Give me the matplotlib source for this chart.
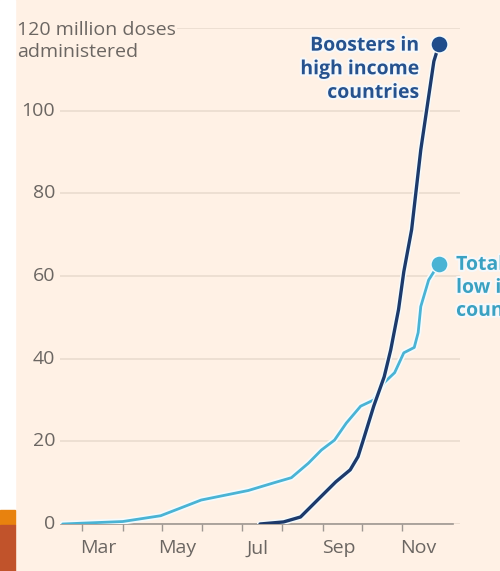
import matplotlib
matplotlib.use("Agg")
import matplotlib.pyplot as plt
import matplotlib.dates as mdates
import matplotlib.patheffects as pe
from matplotlib.patches import Rectangle
from matplotlib.transforms import blended_transform_factory
import numpy as np

# cumulative doses, millions
low_dates = ["2021-02-14", "2021-03-01", "2021-04-01", "2021-04-30", "2021-05-31",
             "2021-07-06", "2021-07-26", "2021-08-08", "2021-08-21", "2021-08-31",
             "2021-09-10", "2021-09-19", "2021-09-30", "2021-10-10", "2021-10-18",
             "2021-10-26", "2021-11-02", "2021-11-10", "2021-11-13", "2021-11-15",
             "2021-11-21", "2021-11-29"]
low_values = [0, 0.2, 0.6, 2, 5.8, 8.1, 10, 11.2, 14.7, 17.9, 20.3, 24.4, 28.5,
              30, 34.2, 36.6, 41.4, 42.7, 46.3, 52.6, 59, 63]

boost_dates = ["2021-07-15", "2021-08-02", "2021-08-15", "2021-08-28", "2021-09-11",
               "2021-09-22", "2021-09-28", "2021-10-02", "2021-10-10", "2021-10-18",
               "2021-10-23", "2021-10-29", "2021-11-02", "2021-11-08", "2021-11-15",
               "2021-11-25", "2021-11-29"]
boost_values = [0, 0.5, 1.7, 5.8, 10.2, 13.1, 16.3, 20.3, 28.5, 35.6, 42.1, 51.9,
                61, 71.2, 90.5, 111.9, 116]

y_ticks = [0, 20, 40, 60, 80, 100]
month_labels = ["Mar", "May", "Jul", "Sep", "Nov"]

BG = "#fff1e5"
GREY = "#6b6662"
DARK = "#1d3a6b"
DARK_DOT = "#1f4d8b"
DARK_TEXT = "#26528e"
LIGHT = "#4ab3d4"
LIGHT_TEXT = "#3aa1c2"
FS = 14

plt.rcParams["font.family"] = ["Open Sans", "DejaVu Sans"]

fig = plt.figure(figsize=(5, 5.71), dpi=100, facecolor=BG)
ax = fig.add_axes([0.12, 0.0823, 0.80, 0.869], facecolor=BG)

# side strip
fig.patches.append(Rectangle((0, 0.1075), 0.03, 0.8925, transform=fig.transFigure, color="white", zorder=0))
fig.patches.append(Rectangle((0, 0.0805), 0.03, 0.027, transform=fig.transFigure, color="#e8820e", zorder=0))
fig.patches.append(Rectangle((0, 0), 0.03, 0.0805, transform=fig.transFigure, color="#c1532b", zorder=0))

ld = np.array(low_dates, dtype="datetime64[D]")
bd = np.array(boost_dates, dtype="datetime64[D]")
halo = [pe.Stroke(linewidth=4.5, foreground="#f4fbfd"), pe.Normal()]
text_halo = [pe.Stroke(linewidth=3, foreground="#f6f8fa"), pe.Normal()]

ax.plot(ld, low_values, color=LIGHT, lw=2, path_effects=halo, zorder=3, solid_capstyle="round")
ax.plot(bd, boost_values, color=DARK, lw=2.4, path_effects=halo, zorder=4, solid_capstyle="round")
ax.scatter(ld[-1], low_values[-1], s=150, color=LIGHT, zorder=5, clip_on=False,
           edgecolor="#f4fbfd", linewidth=1)
ax.scatter(bd[-1], boost_values[-1], s=150, color=DARK_DOT, zorder=5, clip_on=False,
           edgecolor="#f4fbfd", linewidth=1)

ax.text(bd[-1] - np.timedelta64(15, "D"), boost_values[-1] + 2.1, "Boosters in\nhigh income\ncountries",
        ha="right", va="top", fontsize=FS, fontweight="bold", color=DARK_TEXT,
        linespacing=1.24, zorder=6, path_effects=text_halo)
ax.text(ld[-1] + np.timedelta64(13, "D"), low_values[-1] + 2.1, "Total doses in\nlow income\ncountries",
        ha="left", va="top", fontsize=FS, fontweight="bold", color=LIGHT_TEXT,
        linespacing=1.2, zorder=6, clip_on=False, path_effects=text_halo)

ax.set_xlim(np.datetime64("2021-02-12"), np.datetime64("2021-12-15"))
ax.set_ylim(0, 120)

ax.set_yticks(y_ticks + [120])
ax.tick_params(axis="y", length=0, labelleft=False)
ax.yaxis.grid(True, color="#eadccf", lw=1.2)
ax.set_axisbelow(True)

trans = blended_transform_factory(fig.transFigure, ax.transData)
for v in y_ticks:
    ax.text(0.11, v, str(v), transform=trans, ha="right", va="center", fontsize=FS, color=GREY,
            clip_on=False)
ax.text(0.034, 120 + 1.6, "120 million doses\nadministered", transform=trans, ha="left", va="top",
        fontsize=FS, color=GREY, linespacing=1.24, zorder=6,
        bbox=dict(facecolor=BG, edgecolor="none", pad=1), clip_on=False)

ax.xaxis.set_major_locator(mdates.MonthLocator(bymonth=range(3, 12)))
ax.xaxis.set_major_formatter(plt.NullFormatter())
ax.set_xticks([np.datetime64(f"2021-{m:02d}-13") for m in (3, 5, 7, 9, 11)], month_labels, minor=True)
ax.tick_params(axis="x", which="major", length=5, width=1, color="#9e9792")
ax.tick_params(axis="x", which="minor", length=0, labelsize=FS, labelcolor=GREY, pad=11)

for side in ("top", "right", "left"):
    ax.spines[side].set_visible(False)
ax.spines["bottom"].set_color("#9e9792")
ax.spines["bottom"].set_linewidth(1.2)
ax.spines["bottom"].set_bounds(np.datetime64("2021-02-13"), np.datetime64("2021-12-10"))

fig.savefig("out.png", dpi=100, facecolor=BG)
